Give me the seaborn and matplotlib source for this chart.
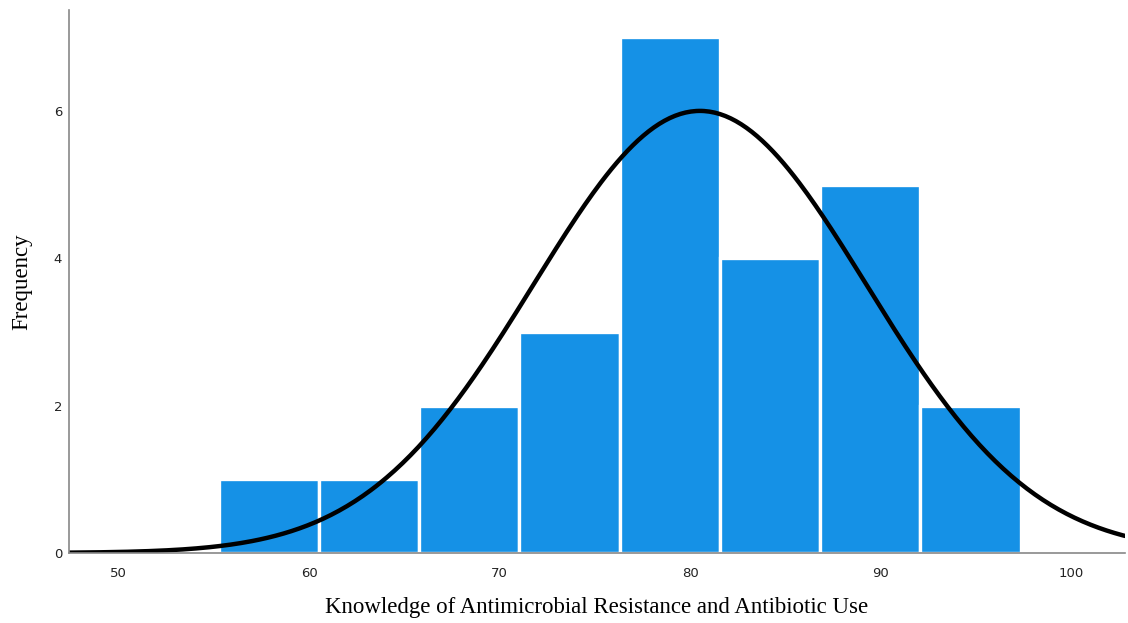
import numpy as np
import pandas as pd
import matplotlib
matplotlib.use("Agg")
import matplotlib.pyplot as plt
import seaborn as sns

# Histogram data
bin_start = 55.26
bin_width = 5.258
counts = [1, 1, 2, 3, 7, 4, 5, 2]
# Normal curve parameters
curve_mean = 80.5
curve_sd = 8.74
n_total = sum(counts)

x_ticks = [50, 60, 70, 80, 90, 100]
y_ticks = [0, 2, 4, 6]

edges = bin_start + bin_width * np.arange(len(counts) + 1)
centers = (edges[:-1] + edges[1:]) / 2
df = pd.DataFrame({"score": centers, "count": counts})

sns.set_style("white")
fig = plt.figure(figsize=(11.28, 6.23), dpi=100)
ax = fig.add_axes([0.0612, 0.1124, 0.9361, 0.8716])

sns.histplot(data=df, x="score", weights="count", bins=len(counts),
             binrange=(float(edges[0]), float(edges[-1])), ax=ax,
             color="#1591E6", alpha=1, edgecolor="white", linewidth=2.4)

xs = np.linspace(47.4, 102.8, 400)
ys = n_total * bin_width / (curve_sd * np.sqrt(2 * np.pi)) * np.exp(-0.5 * ((xs - curve_mean) / curve_sd) ** 2)
sns.lineplot(x=xs, y=ys, ax=ax, color="black", linewidth=3.2)

ax.set_xlim(47.4, 102.8)
ax.set_ylim(0, 7.37)
ax.set_xticks(x_ticks)
ax.set_yticks(y_ticks)
ax.tick_params(axis="both", length=0, labelsize=9.5, colors="#222222")
ax.tick_params(axis="x", pad=10)
ax.tick_params(axis="y", pad=5)
for lab in ax.get_xticklabels() + ax.get_yticklabels():
    lab.set_family("DejaVu Sans")
for s in ["top", "right"]:
    ax.spines[s].set_visible(False)
for s in ["left", "bottom"]:
    ax.spines[s].set_color("#888888")
    ax.spines[s].set_linewidth(1.2)
    ax.spines[s].set_zorder(5)

ax.set_xlabel("Knowledge of Antimicrobial Resistance and Antibiotic Use",
              family="Liberation Serif", fontsize=16.5, labelpad=12, color="black")
ax.set_ylabel("Frequency", family="Liberation Serif", fontsize=16.5, labelpad=15, color="black")

fig.savefig("out.png", dpi=100)
